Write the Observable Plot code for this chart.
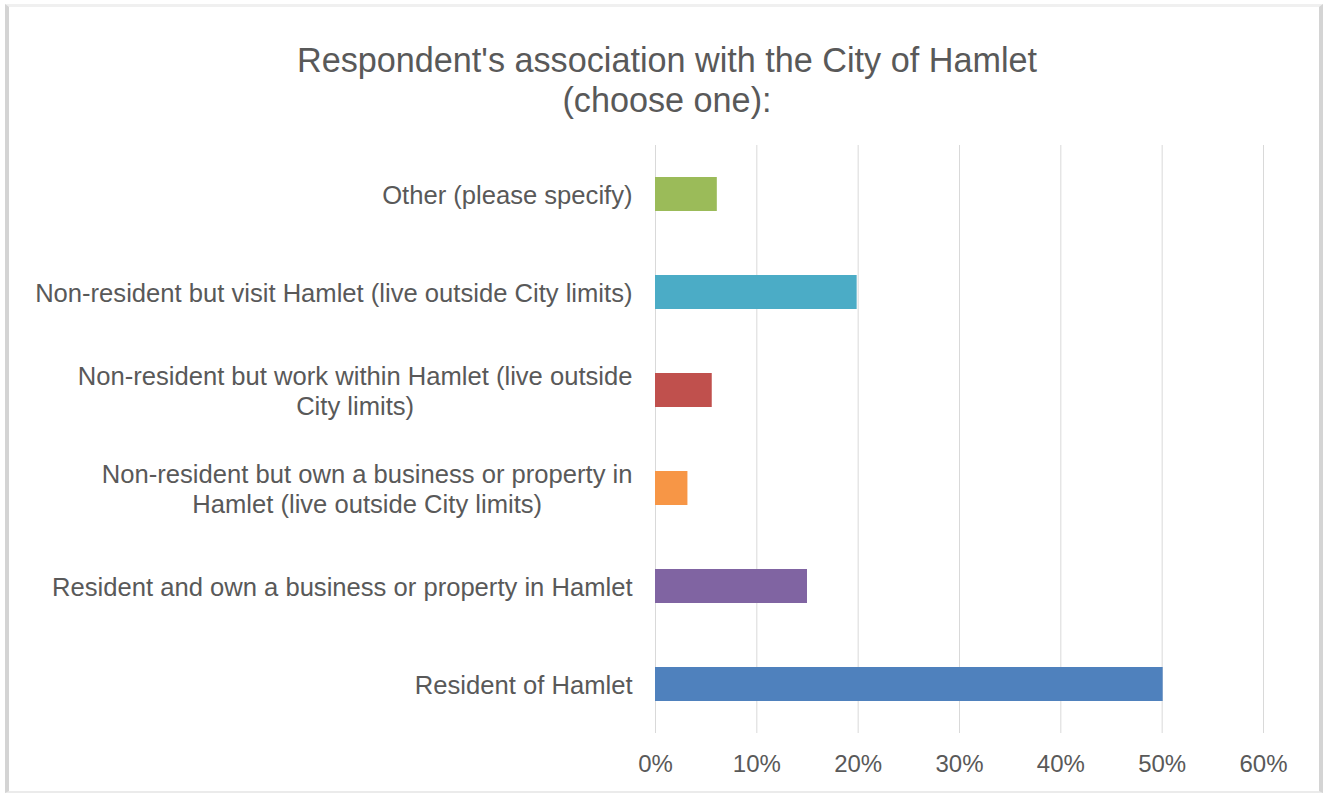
<!DOCTYPE html>
<html><head><meta charset="utf-8">
<script src="https://cdn.jsdelivr.net/npm/d3@7"></script>
<script src="https://cdn.jsdelivr.net/npm/@observablehq/plot@0.6"></script>
<style>
html,body{margin:0;padding:0;background:#fff;}
#frame{position:relative;width:1327px;height:797px;overflow:hidden;font-family:"Liberation Sans",Arial,sans-serif;}
#border{position:absolute;left:5px;top:4px;width:1310px;height:784px;border-left:4px solid #d4d4d4;border-right:4px solid #d4d4d4;border-top:3px solid #f0f0f0;border-bottom:2px solid #ebebeb;pointer-events:none;}
#title{position:relative;height:130px;box-sizing:border-box;padding-top:40px;padding-left:7px;text-align:center;font-size:34.2px;line-height:40px;color:#595959;}
#chart svg{display:block;}
</style>
</head><body>
<div id="frame">
  <div id="border"></div>
  <div id="title">Respondent's association with the City of Hamlet<br>(choose one):</div>
  <div id="chart"></div>
</div>
<script>
const categories = [
  "Resident of Hamlet",
  "Resident and own a business or property in Hamlet",
  "Non-resident but own a business or property in Hamlet (live outside City limits)",
  "Non-resident but work within Hamlet (live outside City limits)",
  "Non-resident but visit Hamlet (live outside City limits)",
  "Other (please specify)"
];
const categoryLabels = [
  "Resident of Hamlet",
  "Resident and own a business or property in Hamlet",
  "Non-resident but own a business or property in\nHamlet (live outside City limits)",
  "Non-resident but work within Hamlet (live outside\nCity limits)",
  "Non-resident but visit Hamlet (live outside City limits)",
  "Other (please specify)"
];
const shares = [0.501, 0.150, 0.032, 0.056, 0.199, 0.061];
const barColors = ["#4F81BD", "#8064A2", "#F79646", "#C0504D", "#4BACC6", "#9BBB59"];
const xTicks = [0, 0.1, 0.2, 0.3, 0.4, 0.5, 0.6];
const xTickLabels = ["0%", "10%", "20%", "30%", "40%", "50%", "60%"];

const rows = categories.map((c, i) => ({category: c, share: shares[i]}));
const font = '"Liberation Sans", Arial, sans-serif';

const chart = Plot.plot({
  width: 1327,
  height: 667,
  marginTop: 15,
  marginBottom: 64,
  marginLeft: 655,
  marginRight: 64,
  style: {fontFamily: font, background: "transparent", overflow: "visible", color: "#595959"},
  x: {domain: [0, 0.6]},
  y: {domain: categories.slice().reverse(), paddingInner: 0.65, paddingOuter: 0.325},
  color: {domain: categories, range: barColors},
  marks: [
    Plot.gridX(xTicks, {stroke: "#d9d9d9", strokeOpacity: 1, strokeWidth: 1}),
    Plot.barX(rows, {x: "share", y: "category", fill: "category"}),
    Plot.axisX(xTicks, {tickSize: 0, tickPadding: 21, fontSize: 24, fill: "#595959",
      tickFormat: d => xTickLabels[xTicks.indexOf(d)], label: null}),
    Plot.axisY({tickSize: 0, tickPadding: 23, fontSize: 25.6, fill: "#595959", lineHeight: 1.17,
      tickFormat: d => categoryLabels[categories.indexOf(d)], label: null})
  ]
});
document.getElementById("chart").appendChild(chart);

// center the wrapped lines of multi-line category labels within their right-aligned block
chart.querySelectorAll("text").forEach(t => {
  const spans = t.querySelectorAll("tspan");
  if (spans.length > 1) {
    let w = 0;
    spans.forEach(s => { w = Math.max(w, s.getComputedTextLength()); });
    const x0 = +(t.getAttribute("x") || 0);
    t.setAttribute("text-anchor", "middle");
    spans.forEach(s => s.setAttribute("x", x0 - w / 2));
  }
});
</script>
</body></html>
